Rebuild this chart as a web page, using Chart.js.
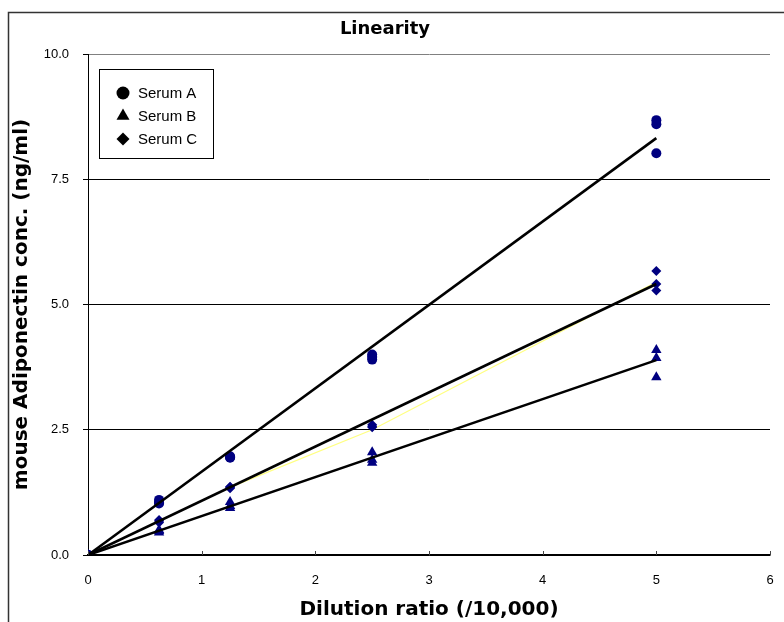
<!DOCTYPE html>
<html>
<head>
<meta charset="utf-8">
<script src="https://cdn.jsdelivr.net/npm/chart.js@4.4.1/dist/chart.umd.min.js"></script>
<style>
    html, body { margin: 0; padding: 0; background: #fff; }
    #wrap { width: 784px; height: 622px; }
</style>
</head>
<body>
<div id="wrap"><canvas id="linChart" width="784" height="622"></canvas></div>
<script>
// ===== DATA =====
const dilution = [0, 0.625, 1.25, 2.5, 5];
const seriesNames = ["Serum A", "Serum B", "Serum C"];
const pointStyles = ["circle", "triangle", "rectRot"];

// triplicate readings (ng/ml)
const serumA = [
    [0, 1.1, 1.97, 4.0, 8.68],
    [0, 1.05, 1.95, 3.95, 8.6],
    [0, 1.03, 1.94, 3.9, 8.02],
];
const serumB = [
    [0, 0.5, 1.06, 2.05, 4.09],
    [0, 0.48, 0.98, 1.9, 3.93],
    [0, 0.45, 0.94, 1.84, 3.55],
];
const serumC = [
    [0, 0.7, 1.36, 2.6, 5.67],
    [0, 0.68, 1.35, 2.57, 5.41],
    [0, 0.65, 1.33, 2.55, 5.28],
];

// trend lines (start / end)
const fitX = [0, 5];
const fitA = [0, 8.32];
const fitB = [0, 3.89];
const fitC = [0, 5.41];

// faint yellow line under serum C trend
const yellowX = [1.25, 2.5, 5];
const yellowY = [1.35, 2.5, 5.45];

const xTicks = [0, 1, 2, 3, 4, 5, 6];
const yTicks = [0, 2.5, 5, 7.5, 10];

function toPoints(xs, ys) {
    return xs.map((x, i) => ({ x: x, y: ys[i] }));
}
function repsToPoints(reps) {
    let pts = [];
    reps.forEach((r) => (pts = pts.concat(toPoints(dilution, r))));
    return pts;
}

const NAVY = "#000080";

function markerSet(label, reps, style, radius) {
    return {
        type: "scatter",
        label: label,
        data: repsToPoints(reps),
        pointStyle: style,
        pointRadius: radius,
        pointBackgroundColor: NAVY,
        pointBorderColor: NAVY,
        pointBorderWidth: 0,
        showLine: false,
        order: 2,
    };
}
function lineSet(xs, ys, color, width, order) {
    return {
        type: "line",
        data: toPoints(xs, ys),
        borderColor: color,
        borderWidth: width,
        pointRadius: 0,
        fill: false,
        tension: 0,
        order: order,
    };
}

// ===== PLUGINS =====
const framePlugin = {
    id: "frame",
    beforeDraw(chart) {
        const ctx = chart.ctx;
        ctx.save();
        ctx.strokeStyle = "#333";
        ctx.lineWidth = 1.5;
        ctx.beginPath();
        ctx.moveTo(8.5, 622);
        ctx.lineTo(8.5, 12.5);
        ctx.lineTo(784, 12.5);
        ctx.stroke();
        ctx.restore();
    },
    afterDraw(chart) {
        // inward tick marks on x axis
        const ctx = chart.ctx;
        const xs = chart.scales.x;
        const bottom = chart.chartArea.bottom;
        ctx.save();
        ctx.strokeStyle = "#444";
        ctx.lineWidth = 1;
        xTicks.forEach((v) => {
            const px = Math.round(xs.getPixelForValue(v)) + 0.5;
            ctx.beginPath();
            ctx.moveTo(px, bottom);
            ctx.lineTo(px, bottom - 4);
            ctx.stroke();
        });
        ctx.restore();
    },
};

const boxLegendPlugin = {
    id: "boxLegend",
    afterDraw(chart) {
        const ctx = chart.ctx;
        const left = chart.chartArea.left + 11;
        const top = chart.chartArea.top + 15;
        ctx.save();
        ctx.strokeStyle = "#000";
        ctx.lineWidth = 1;
        ctx.fillStyle = "#fff";
        ctx.fillRect(left + 0.5, top + 0.5, 114, 89);
        ctx.strokeRect(left + 0.5, top + 0.5, 114, 89);
        ctx.font = "15px 'Liberation Sans', Arial, sans-serif";
        ctx.textBaseline = "middle";
        seriesNames.forEach((name, i) => {
            const y = top + 24 + i * 23;
            ctx.fillStyle = "#000";
            ctx.strokeStyle = "#000";
            Chart.helpers.drawPoint(
                ctx,
                { pointStyle: pointStyles[i], radius: i === 1 ? 7.5 : 6.5, borderWidth: 0 },
                left + 24,
                y
            );
            ctx.fillStyle = "#000";
            ctx.fillText(name, left + 39, y + 1);
        });
        ctx.restore();
    },
};

// ===== CHART =====
Chart.defaults.font.family = "'Liberation Sans', Arial, sans-serif";
Chart.defaults.color = "#000";

const titleFont = { family: "'DejaVu Sans', sans-serif", size: 20, weight: "bold" };

new Chart(document.getElementById("linChart"), {
    data: {
        datasets: [
            lineSet(yellowX, yellowY, "#ffff80", 1.2, 3),
            markerSet(seriesNames[0], serumA, "circle", 5),
            markerSet(seriesNames[1], serumB, "triangle", 6),
            markerSet(seriesNames[2], serumC, "rectRot", 5),
            lineSet(fitX, fitA, "#000", 2.6, 1),
            lineSet(fitX, fitB, "#000", 2.6, 1),
            lineSet(fitX, fitC, "#000", 2.6, 1),
        ],
    },
    options: {
        responsive: false,
        animation: false,
        layout: { padding: { left: 0, right: 14, top: 0, bottom: 0 }, autoPadding: false },
        plugins: {
            legend: { display: false },
            tooltip: { enabled: false },
            title: {
                display: true,
                text: "Linearity",
                font: { family: "'DejaVu Sans', sans-serif", size: 18, weight: "bold" },
                color: "#000",
                padding: { top: 19, bottom: 13.4 },
            },
        },
        scales: {
            x: {
                type: "linear",
                min: 0,
                max: 6,
                afterBuildTicks: (s) => (s.ticks = xTicks.map((v) => ({ value: v }))),
                afterFit: (s) => {
                    s.height = 67;
                    s.paddingLeft = 0;
                    s.paddingRight = 0;
                },
                grid: { display: false, drawTicks: false },
                border: { display: true, color: "#000", width: 1.5 },
                ticks: {
                    font: { size: 13 },
                    padding: 18,
                    maxRotation: 0,
                },
                title: {
                    display: true,
                    text: "Dilution ratio (/10,000)",
                    font: titleFont,
                    padding: { top: 4, bottom: 0 },
                },
            },
            y: {
                type: "linear",
                min: 0,
                max: 10,
                afterBuildTicks: (s) => (s.ticks = yTicks.map((v) => ({ value: v }))),
                afterFit: (s) => (s.width = 88),
                grid: {
                    color: (c) => (c.tick && c.tick.value === 10 ? "#808080" : "#000"),
                    lineWidth: 1,
                    tickLength: 5,
                    tickColor: "#000",
                },
                border: { display: true, color: "#000", width: 1 },
                ticks: {
                    font: { size: 13 },
                    padding: 14,
                    callback: (v) => Number(v).toFixed(1),
                },
                title: {
                    display: true,
                    text: "mouse Adiponectin conc. (ng/ml)",
                    font: titleFont,
                    padding: { top: 10, bottom: 0 },
                },
            },
        },
    },
    plugins: [framePlugin, boxLegendPlugin],
});
</script>
</body>
</html>
